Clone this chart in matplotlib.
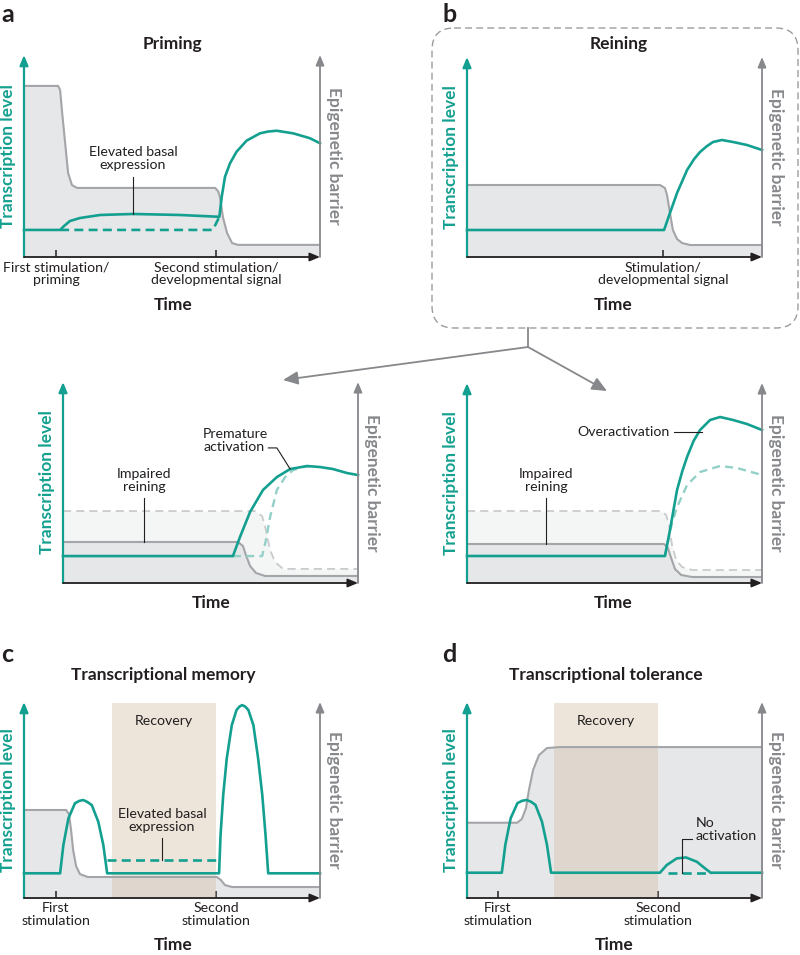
import matplotlib.pyplot as plt
from matplotlib.patches import FancyBboxPatch

plt.rcParams['font.family'] = ['Lato', 'DejaVu Sans']

TEAL = '#14a090'
TEAL_LIGHT = '#93d0c8'
GRAY = '#a3a5a8'
GRAY_DASH = '#c9cbcd'
FILL = '#e6e7e8'
FILL_LIGHT = '#f4f5f5'
AXIS_GRAY = '#86888b'
DARK = '#231f20'
RECOVERY = '#d6c2a8'

# ---- data (time 0-100, level 0-100) ----
# a: priming
a_barrier_t = [0, 11.5, 12.2, 12.8, 13.9, 14.9, 16.2, 17.9, 64.6, 65.6, 66.2, 67.2, 68.6, 70.3, 72.3, 100]
a_barrier_v = [84.7, 84.7, 82.7, 72.8, 56.4, 41.6, 35.6, 34.2, 34.2, 32.5, 29.7, 19.8, 11.9, 6.9, 6, 6]
a_teal_t = [0, 12.2, 13.5, 15.5, 18.9, 25.7, 36.8, 52.7, 66.0, 66.8, 67.9, 69.6, 71.8, 75.2,
            79.7, 82.4, 85.4, 91.0, 96.6, 100]
a_teal_v = [13.4, 13.4, 15.3, 17.8, 19.3, 20.8, 21.3, 20.8, 19.9, 29.8, 39.7, 46.4, 52.1, 57.6,
            61.2, 62.1, 62.5, 61.2, 58.8, 56.3]
a_dash_t = [12.2, 63.8, 66.0]
a_dash_v = [13.4, 13.4, 19.9]
a_ticks = [10.8, 64.9]
a_ticklabels = ['First stimulation/\npriming', 'Second stimulation/\ndevelopmental signal']

# b: reining
b_barrier_t = [0, 65.4, 67.1, 67.8, 68.8, 69.8, 71.2, 72.9, 75.6, 100]
b_barrier_v = [36, 36, 34.5, 31, 22, 13.5, 9, 7, 6, 6]
b_teal_t = [0, 66.8, 68.8, 71.2, 74.6, 77, 79, 81.2, 83.4, 86.4, 90.2, 94.9, 100]
b_teal_v = [13.5, 13.5, 22, 32, 43.5, 49, 52.5, 55.3, 57.5, 58.5, 57.5, 56, 53.5]
b_ticks = [66.4]
b_ticklabels = ['Stimulation/\ndevelopmental signal']

# b (left): premature activation
p_ref_t = [0, 65.1, 67.5, 68.8, 70.2, 71.9, 74.6, 100]
p_ref_v = [35.8, 35.8, 33.3, 26.4, 16.4, 10.4, 7, 7]
p_barrier_t = [0, 59.3, 61, 62, 63.4, 65.4, 68.5, 100]
p_barrier_v = [20.4, 20.4, 18.4, 13.9, 8.5, 5, 3.5, 3.5]
p_teal_t = [0, 57.6, 60, 63.4, 67.8, 72.5, 77, 82.7, 87.1, 91.5, 96.3, 100]
p_teal_v = [13.4, 13.4, 22.9, 35.3, 46.3, 52.7, 56.7, 58.2, 57.7, 56.7, 54.7, 53.7]
p_normal_t = [57.6, 67.5, 68.8, 70.2, 72.5, 75.3, 78, 81.4, 84.4]
p_normal_v = [13.4, 13.4, 21.4, 32.8, 46.3, 52.7, 56.2, 57.7, 58.2]

# b (right): overactivation
o_ref_t = [0, 65.8, 67.5, 68.5, 69.5, 70.9, 72.9, 76.3, 100]
o_ref_v = [36, 36, 34, 29, 19, 11.5, 8, 6.5, 6.5]
o_barrier_t = [0, 66.8, 68.1, 69.2, 70.5, 72.6, 76.3, 100]
o_barrier_v = [19.5, 19.5, 17.5, 12.5, 7, 4, 3, 3]
o_teal_t = [0, 67.1, 68.8, 71.2, 73, 74.6, 76.8, 79, 82.4, 85.8, 90.2, 94.9, 100]
o_teal_v = [13.5, 13.5, 26.5, 46.5, 56, 63, 71, 76.5, 81.5, 83, 81.5, 79.5, 76.5]
o_normal_t = [67.1, 69.5, 71.2, 74.6, 79, 85.8, 91.5, 100]
o_normal_v = [13.5, 30, 38, 49, 55.5, 58.5, 57.5, 54]

# c: transcriptional memory
c_barrier_t = [0, 14.2, 15.2, 15.9, 16.6, 17.6, 18.9, 21.6, 65.2, 66.5, 67.9, 70.3, 100]
c_barrier_v = [44.9, 44.9, 42.8, 34.7, 24.5, 16.3, 12.2, 10.7, 10.7, 9.2, 6.6, 5.6, 5.6]
c_teal_t = [0, 12.2, 13.3, 15.0, 17.2, 18.6, 20.0, 21.4, 22.9, 25.1, 26.8, 28.1,
            65.9, 66.4, 67.3, 68.5, 70.2, 71.8, 72.8, 73.7, 74.7, 75.8, 77.5, 79.1, 80.5, 81.6, 82.5, 100]
c_teal_v = [12.6, 12.6, 27.0, 40.6, 48.3, 49.5, 50.0, 49.0, 47.4, 38.9, 27.0, 12.6,
            12.6, 32.1, 52.5, 71.2, 88.2, 95.9, 97.7, 98.4, 97.7, 95.9, 88.2, 71.2, 52.5, 32.1, 12.6, 12.6]
c_dash_t = [28.1, 65.9]
c_dash_v = [19.4, 19.4]
c_recovery = [29.7, 64.9]
c_ticks = [10.8, 64.9]
stim_labels = ['First\nstimulation', 'Second\nstimulation']

# d: transcriptional tolerance
d_barrier_t = [0, 17, 18.6, 20, 21, 22.4, 24.4, 27.1, 31.5, 100]
d_barrier_v = [38.4, 38.4, 40.3, 45.9, 55.1, 65.3, 72.9, 76.5, 77, 77]
d_teal_t = [0, 11.8, 13.0, 14.8, 17.1, 18.7, 20.2, 21.7, 23.2, 25.4, 27.1, 28.5,
            65.4, 67.7, 71.1, 74.2, 77.9, 80.7, 82.6, 100]
d_teal_v = [12.9, 12.9, 27.2, 40.7, 48.4, 49.6, 50.0, 49.1, 47.5, 39.0, 27.2, 12.9,
            12.9, 16.8, 20.2, 20.7, 18.5, 15.1, 12.9, 12.9]
d_dash_t = [68, 82.6]
d_dash_v = [12.9, 12.9]
d_recovery = [29.5, 64.7]
d_ticks = [10.5, 64.7]

W, H = 800, 955
fig = plt.figure(figsize=(W / 100, H / 100), dpi=100)

# overlay in pixel units for the dashed box and connector arrows
ov = fig.add_axes([0, 0, 1, 1])
ov.set_xlim(0, W)
ov.set_ylim(H, 0)
ov.axis('off')
ov.add_patch(FancyBboxPatch((432, 28), 366, 300, boxstyle='round,pad=0,rounding_size=22',
                            fill=False, ec='#9a9c9f', lw=1.0, ls=(0, (5, 3))))
ov.plot([528, 528], [328, 347], color=AXIS_GRAY, lw=1.3)
for tip in [(283, 380), (607, 391)]:
    ov.annotate('', xy=tip, xytext=(528, 347),
                arrowprops=dict(arrowstyle='-|>,head_length=0.9,head_width=0.4',
                                color=AXIS_GRAY, lw=1.3, shrinkA=0, shrinkB=0))

for letter, x, y in [('a', 1, 15), ('b', 442, 15), ('c', 1, 655), ('d', 442, 654)]:
    fig.text(x / W, 1 - y / H, letter, fontsize=18, fontweight='bold', color=DARK,
             ha='left', va='center')

LABEL = 12.5
SMALL = 10.2


def panel(px):
    x0, y0, x1, y1 = px
    ax = fig.add_axes([x0 / W, 1 - y1 / H, (x1 - x0) / W, (y1 - y0) / H])
    ax.set_facecolor('none')
    ax.set_xlim(0, 100)
    ax.set_ylim(0, 100)
    for s in ax.spines.values():
        s.set_visible(False)
    ax.set_yticks([])
    ax.set_xticks([])
    head = '-|>,head_length=0.6,head_width=0.25'
    ax.annotate('', xy=(0, 100), xytext=(0, 0), annotation_clip=False,
                arrowprops=dict(arrowstyle=head, color=TEAL, lw=1.6, shrinkA=0, shrinkB=0), zorder=6)
    ax.annotate('', xy=(100, 100), xytext=(100, 0), annotation_clip=False,
                arrowprops=dict(arrowstyle=head, color=AXIS_GRAY, lw=1.3, shrinkA=0, shrinkB=0), zorder=6)
    ax.annotate('', xy=(100, 0), xytext=(0, 0), annotation_clip=False,
                arrowprops=dict(arrowstyle=head, color=DARK, lw=1.3, shrinkA=0, shrinkB=0), zorder=7)
    ax.text(-5.3, 50, 'Transcription level', rotation=90, color=TEAL, fontsize=LABEL,
            fontweight='bold', ha='center', va='center')
    ax.text(104.8, 50, 'Epigenetic barrier', rotation=270, color=AXIS_GRAY, fontsize=LABEL,
            fontweight='bold', ha='center', va='center')
    return ax


def ticks(ax, pos, labels):
    ax.set_xticks(pos, labels=labels)
    ax.tick_params(axis='x', direction='in', length=5, width=1.1, color=DARK, pad=3,
                   labelsize=SMALL, labelcolor=DARK)
    for lab in ax.get_xticklabels():
        lab.set_linespacing(1.12)


def barrier(ax, t, v, fill=FILL):
    ax.fill_between(t, v, 0, color=fill, lw=0, zorder=1)
    ax.plot(t, v, color=GRAY, lw=1.5, zorder=2, solid_joinstyle='round')


def note(ax, x, y, s, ha='center'):
    ax.text(x, y, s, fontsize=SMALL, color=DARK, ha=ha, va='center', linespacing=1.1, zorder=8)


def leader(ax, xs, ys):
    ax.plot(xs, ys, color=DARK, lw=0.8, zorder=8, clip_on=False)


TITLE = dict(fontsize=LABEL, fontweight='bold', color=DARK, ha='center', va='center')
teal_kw = dict(color=TEAL, lw=1.9, zorder=4, clip_on=False, solid_joinstyle='round')
dash_kw = dict(color=TEAL, lw=1.9, zorder=4, dashes=(3.4, 2.0))
ghost_kw = dict(color=TEAL_LIGHT, lw=1.7, dashes=(3.4, 2.2), zorder=3)
ref_kw = dict(color=GRAY_DASH, lw=1.3, dashes=(4.5, 2.8), zorder=1.5)

# ---- a ----
ax = panel((24, 55, 320, 257))
barrier(ax, a_barrier_t, a_barrier_v)
ax.plot(a_dash_t, a_dash_v, **dash_kw)
ax.plot(a_teal_t, a_teal_v, **teal_kw)
ticks(ax, a_ticks, a_ticklabels)
ax.text(50.3, 105.6, 'Priming', **TITLE)
ax.text(50.3, -23.8, 'Time', **TITLE)
note(ax, 36.8, 48.8, 'Elevated basal\nexpression')
leader(ax, [36.8, 36.8], [39.6, 21.3])

# ---- b ----
ax = panel((467, 57, 762, 257))
barrier(ax, b_barrier_t, b_barrier_v)
ax.plot(b_teal_t, b_teal_v, **teal_kw)
ticks(ax, b_ticks, b_ticklabels)
ax.text(51.5, 106.5, 'Reining', **TITLE)
ax.text(49.5, -24, 'Time', **TITLE)

# ---- b, premature activation ----
ax = panel((63, 382, 358, 583))
ax.fill_between(p_ref_t, p_ref_v, 0, color=FILL_LIGHT, lw=0, zorder=0.5)
ax.plot(p_ref_t, p_ref_v, **ref_kw)
barrier(ax, p_barrier_t, p_barrier_v)
ax.plot(p_normal_t, p_normal_v, **ghost_kw)
ax.plot(p_teal_t, p_teal_v, **teal_kw)
ax.text(50.2, -10, 'Time', **TITLE)
note(ax, 27.5, 51, 'Impaired\nreining')
leader(ax, [27.5, 27.5], [42.3, 20.4])
note(ax, 47.5, 70.9, 'Premature\nactivation', ha='left')
leader(ax, [69.6, 72.5, 77], [67.2, 67.2, 56.7])

# ---- b, overactivation ----
ax = panel((467, 383, 762, 583))
ax.fill_between(o_ref_t, o_ref_v, 0, color=FILL_LIGHT, lw=0, zorder=0.5)
ax.plot(o_ref_t, o_ref_v, **ref_kw)
barrier(ax, o_barrier_t, o_barrier_v)
ax.plot(o_normal_t, o_normal_v, **ghost_kw)
ax.plot(o_teal_t, o_teal_v, **teal_kw)
ax.text(49.5, -10, 'Time', **TITLE)
note(ax, 26.8, 51.3, 'Impaired\nreining')
leader(ax, [26.8, 26.8], [42.5, 19.5])
note(ax, 37.3, 75.5, 'Overactivation', ha='left')
leader(ax, [70.2, 79.5], [75.5, 75.5])

# ---- c ----
ax = panel((24, 702, 320, 898))
barrier(ax, c_barrier_t, c_barrier_v)
ax.axvspan(c_recovery[0], c_recovery[1], ymax=0.995, color=RECOVERY, alpha=0.42, lw=0, zorder=1.7)
ax.plot(c_dash_t, c_dash_v, **dash_kw)
ax.plot(c_teal_t, c_teal_v, **teal_kw)
ticks(ax, c_ticks, stim_labels)
ax.text(47, 113.7, 'Transcriptional memory', **TITLE)
ax.text(50.3, -24, 'Time', **TITLE)
note(ax, 47.3, 90.3, 'Recovery')
note(ax, 46.6, 39.5, 'Elevated basal\nexpression')
leader(ax, [46.6, 46.6], [30.6, 19.4])

# ---- d ----
ax = panel((467, 702, 762, 898))
barrier(ax, d_barrier_t, d_barrier_v)
ax.axvspan(d_recovery[0], d_recovery[1], ymax=0.995, color=RECOVERY, alpha=0.42, lw=0, zorder=1.7)
ax.plot(d_dash_t, d_dash_v, **dash_kw)
ax.plot(d_teal_t, d_teal_v, **teal_kw)
ticks(ax, d_ticks, stim_labels)
ax.text(47.1, 113.7, 'Transcriptional tolerance', **TITLE)
ax.text(49.8, -24, 'Time', **TITLE)
note(ax, 47, 90.3, 'Recovery')
note(ax, 77.6, 34.8, 'No\nactivation', ha='left')
leader(ax, [72.8, 72.8, 76.2], [12.9, 29.9, 29.9])

fig.savefig('out.png', dpi=100)
